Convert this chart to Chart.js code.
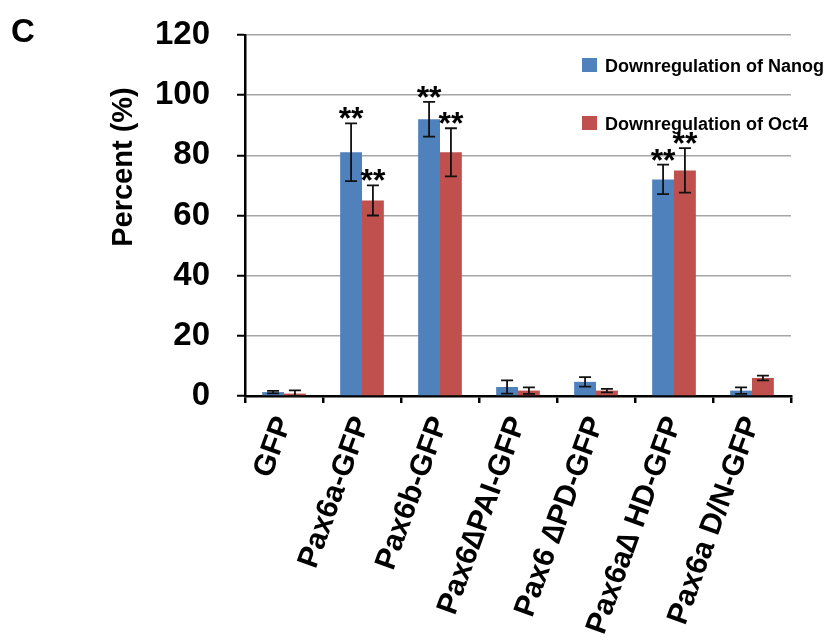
<!DOCTYPE html>
<html>
<head>
<meta charset="utf-8">
<script src="https://cdn.jsdelivr.net/npm/chart.js@4/dist/chart.umd.min.js"></script>
<style>
  body { margin: 0; background: #fff; }
  #wrap { width: 826px; height: 641px; }
</style>
</head>
<body>
<div id="wrap"><canvas id="pax-chart" width="826" height="641"></canvas></div>
<script>
// groups along the x axis
const categories = ["GFP", "Pax6a-GFP", "Pax6b-GFP", "Pax6\u2206PAI-GFP", "Pax6 \u2206PD-GFP", "Pax6a\u2206 HD-GFP", "Pax6a D/N-GFP"];

// percent values
const nanog = [1.3, 81, 92, 3, 4.7, 72, 1.8];
const nanogErr = [0.4, 9.6, 5.8, 2.2, 1.6, 4.9, 1.1];
const oct4 = [0.8, 65, 81, 1.8, 1.8, 75, 6];
const oct4Err = [1.1, 5, 8, 1.1, 0.6, 7.4, 0.8];

// significance marks
const nanogSig = ["", "**", "**", "", "", "**", ""];
const oct4Sig = ["", "**", "**", "", "", "**", ""];

const FONT = "'Liberation Sans', Arial, sans-serif";

const extras = {
  id: "extras",
  afterDatasetsDraw(chart) {
    const ctx = chart.ctx;
    const y = chart.scales.y;
    chart.data.datasets.forEach((ds, i) => {
      const meta = chart.getDatasetMeta(i);
      meta.data.forEach((bar, j) => {
        const v = ds.data[j], e = ds.errors[j];
        const top = y.getPixelForValue(v + e);
        const bot = y.getPixelForValue(Math.max(v - e, 0));
        ctx.save();
        ctx.strokeStyle = "#111";
        ctx.lineWidth = 1.8;
        ctx.beginPath();
        ctx.moveTo(bar.x, top); ctx.lineTo(bar.x, bot);
        ctx.moveTo(bar.x - 6, top); ctx.lineTo(bar.x + 6, top);
        ctx.moveTo(bar.x - 6, bot); ctx.lineTo(bar.x + 6, bot);
        ctx.stroke();
        if (ds.sig[j]) {
          ctx.fillStyle = "#000";
          ctx.font = "bold 32px " + FONT;
          ctx.textAlign = "center";
          ctx.textBaseline = "alphabetic";
          ctx.fillText(ds.sig[j], bar.x, top + 6);
        }
        ctx.restore();
      });
    });
  },
  afterDraw(chart) {
    const ctx = chart.ctx;
    ctx.save();
    ctx.fillStyle = "#000";
    // panel letter
    ctx.font = "bold 33px " + FONT;
    ctx.textAlign = "left";
    ctx.fillText("C", 11, 42);
    // y title
    ctx.save();
    ctx.translate(132, 167);
    ctx.rotate(-Math.PI / 2);
    ctx.font = "bold 29px " + FONT;
    ctx.textAlign = "center";
    ctx.fillText("Percent (%)", 0, 0);
    ctx.restore();
    // legend
    const rows = [72, 130];
    chart.data.datasets.forEach((ds, i) => {
      ctx.fillStyle = ds.backgroundColor;
      ctx.fillRect(582, rows[i] - 14, 15, 14);
      ctx.fillStyle = "#000";
      ctx.font = "bold 18px " + FONT;
      ctx.textAlign = "left";
      ctx.fillText(ds.label, 605, rows[i]);
    });
    ctx.restore();
  }
};

new Chart(document.getElementById("pax-chart"), {
  type: "bar",
  data: {
    labels: categories,
    datasets: [
      { label: "Downregulation of Nanog", data: nanog, errors: nanogErr, sig: nanogSig, backgroundColor: "#4F81BD", borderWidth: 0 },
      { label: "Downregulation of Oct4", data: oct4, errors: oct4Err, sig: oct4Sig, backgroundColor: "#C0504D", borderWidth: 0 }
    ]
  },
  options: {
    responsive: false,
    animation: false,
    layout: { padding: { top: 35, right: 35, left: 0, bottom: 0 } },
    datasets: { bar: { categoryPercentage: 0.56, barPercentage: 1 } },
    plugins: { legend: { display: false }, tooltip: { enabled: false } },
    scales: {
      x: {
        afterFit: (s) => { s.height = 245; },
        grid: { display: true, drawOnChartArea: false, offset: true, color: "#000", tickColor: "#000", tickLength: 7, lineWidth: 2.5 },
        border: { color: "#000", width: 2.5 },
        ticks: { color: "#000", font: { family: FONT, size: 30, weight: "bold" }, minRotation: 70, maxRotation: 70, padding: 9, autoSkip: false }
      },
      y: {
        min: 0, max: 120,
        afterFit: (s) => { s.width = 245; s.paddingTop = 10; s.paddingBottom = 10; },
        grid: { color: "#A6A6A6", lineWidth: 1.5, tickColor: "#000", tickLength: 8, tickWidth: 2 },
        border: { color: "#000", width: 2.5 },
        ticks: { stepSize: 20, color: "#000", font: { family: FONT, size: 33, weight: "bold" }, padding: 27 }
      }
    }
  },
  plugins: [extras]
});
</script>
</body>
</html>
